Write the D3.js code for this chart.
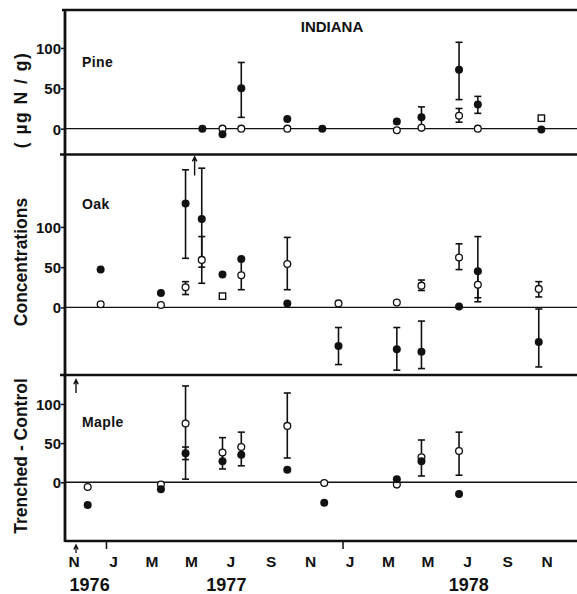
<!DOCTYPE html>
<html>
<head>
<meta charset="utf-8">
<script src="https://cdn.jsdelivr.net/npm/d3@7"></script>
<style>
  html, body { margin: 0; padding: 0; background: #fff; }
  svg { display: block; font-family: "Liberation Sans", Arial, sans-serif; }
</style>
</head>
<body>
<svg id="chart" width="577" height="594"></svg>
<script>
// ---------------- DATA ----------------
const title = "INDIANA";
const yAxisTitleParts = ["Trenched - Control", "Concentrations", "( \u00b5g N / g)"];
const monthLabels = ["N","J","M","M","J","S","N","J","M","M","J","S","N"];
const monthLabelDates = ["1976-11-12","1977-01-12","1977-03-12","1977-05-12","1977-07-12","1977-09-12","1977-11-12","1978-01-12","1978-03-12","1978-05-12","1978-07-12","1978-09-12","1978-11-12"];
const yearLabels = ["1976","1977","1978"];
const yearLabelDates = ["1976-12-06","1977-07-05","1978-07-14"];
const yearTickDates = ["1977-01-01","1978-01-01"];
const yTickValues = [0, 50, 100];

// Pine
const pineDates = ["1977-05-29","1977-06-29","1977-07-28","1977-10-07","1977-11-30","1978-03-25","1978-05-02","1978-06-29","1978-07-28","1978-11-03"];
const pineFilled   = [0, -7, 50, 12, 0, 9, 14, 73, 30, -1];
const pineFilledLo = [null, null, 14, null, null, null, 2, 36, 19, null];
const pineFilledHi = [null, null, 82, null, null, null, 27, 107, 40, null];
const pineOpen     = [null, 0, 0, 0, null, -2, 1, 16, 0, null];
const pineOpenLo   = [null, null, null, null, null, null, null, 8, null, null];
const pineOpenHi   = [null, null, null, null, null, null, null, 25, null, null];
const pineSquareDates = ["1978-11-03"];
const pineSquare = [13];

// Oak
const oakDates = ["1976-12-23","1977-03-26","1977-05-03","1977-05-28","1977-06-29","1977-07-28","1977-10-07","1977-12-25","1978-03-25","1978-05-02","1978-06-29","1978-07-28","1978-10-30"];
const oakFilled   = [47, 18, 129, 110, 41, 60, 5, -48, -52, -55, 1, 45, -43];
const oakFilledLo = [null, null, 61, 50, null, null, null, -71, -78, -76, null, 7, -74];
const oakFilledHi = [null, null, 171, 173, null, null, null, -25, -25, -17, null, 88, -2];
const oakOpen     = [4, 3, 25, 59, null, 40, 54, 5, 6, 27, 62, 28, 23];
const oakOpenLo   = [null, null, 16, 30, null, 22, 22, null, null, 21, 47, 12, 13];
const oakOpenHi   = [null, null, 32, 88, null, 60, 87, null, null, 34, 79, 44, 32];
const oakSquareDates = ["1977-06-29"];
const oakSquare = [14];
const oakArrowDates = ["1977-05-17"];
const oakArrowFrom = [164];
const oakArrowTo = [187];

// Maple
const mapleDates = ["1976-12-03","1977-03-26","1977-05-03","1977-06-29","1977-07-28","1977-10-07","1977-12-03","1978-03-25","1978-05-02","1978-06-29"];
const mapleFilled   = [-29, -9, 37, 27, 35, 16, -26, 4, 27, -15];
const mapleFilledLo = [null, null, 29, 17, 21, null, null, null, 8, null];
const mapleFilledHi = [null, null, 45, 38, 45, null, null, null, 32, null];
const mapleOpen     = [-6, -3, 75, 38, 45, 72, -1, -3, 32, 40];
const mapleOpenLo   = [null, null, 4, 28, 35, 31, null, null, 27, 9];
const mapleOpenHi   = [null, null, 123, 57, 64, 114, null, null, 54, 64];
const mapleSquareDates = [];
const mapleSquare = [];
const mapleArrowDates = ["1976-11-15"];
const mapleArrowFrom = [114];
const mapleArrowTo = [131];

const axisArrowDates = ["1976-11-15"];

// ---------------- LAYOUT ----------------
const parse = d3.utcParse("%Y-%m-%d");
const left = 65, right = 577, axisY = 541;
const x = d3.scaleUtc()
  .domain([parse("1976-10-29"), parse("1978-12-28")])
  .range([left, right]);

const panels = [
  { label: "Pine", labelY: 66.5, top: 10, bottom: 154.5, domain: [-32, 147],
    dates: pineDates, filled: pineFilled, fLo: pineFilledLo, fHi: pineFilledHi,
    open: pineOpen, oLo: pineOpenLo, oHi: pineOpenHi,
    sqDates: pineSquareDates, sq: pineSquare, arrows: [] },
  { label: "Oak", labelY: 209, top: 154.5, bottom: 375, domain: [-84, 190],
    dates: oakDates, filled: oakFilled, fLo: oakFilledLo, fHi: oakFilledHi,
    open: oakOpen, oLo: oakOpenLo, oHi: oakOpenHi,
    sqDates: oakSquareDates, sq: oakSquare,
    arrows: oakArrowDates.map((d, i) => ({ d, from: oakArrowFrom[i], to: oakArrowTo[i] })) },
  { label: "Maple", labelY: 427, top: 375, bottom: axisY, domain: [-75, 137],
    dates: mapleDates, filled: mapleFilled, fLo: mapleFilledLo, fHi: mapleFilledHi,
    open: mapleOpen, oLo: mapleOpenLo, oHi: mapleOpenHi,
    sqDates: mapleSquareDates, sq: mapleSquare,
    arrows: mapleArrowDates.map((d, i) => ({ d, from: mapleArrowFrom[i], to: mapleArrowTo[i] })) }
];

const svg = d3.select("#chart");
const ink = "#111";

// frame
svg.append("line").attr("x1", left - 3).attr("x2", right).attr("y1", 10).attr("y2", 10)
  .attr("stroke", ink).attr("stroke-width", 2.5);
svg.append("line").attr("x1", left).attr("x2", left).attr("y1", 9).attr("y2", axisY + 1)
  .attr("stroke", ink).attr("stroke-width", 2.8);
svg.append("line").attr("x1", left).attr("x2", right).attr("y1", axisY).attr("y2", axisY)
  .attr("stroke", ink).attr("stroke-width", 2.5);
panels.slice(1).forEach(p => {
  svg.append("line").attr("x1", left - 5).attr("x2", right).attr("y1", p.top).attr("y2", p.top)
    .attr("stroke", ink).attr("stroke-width", 2.5);
});

// title
svg.append("text").attr("x", 332).attr("y", 31.5).attr("text-anchor", "middle")
  .attr("font-size", 15).attr("font-weight", "bold").attr("fill", ink).text(title);

// y title (three pieces, as in the original lettering)
const titleCenters = [456, 262, 100];
const titleSpacing = [0, 0, 1.5];
yAxisTitleParts.forEach((t, i) => {
  svg.append("text")
    .attr("transform", `translate(27,${titleCenters[i]}) rotate(-90)`)
    .attr("text-anchor", "middle")
    .attr("font-size", 17.5).attr("font-weight", "bold").attr("fill", ink)
    .attr("letter-spacing", titleSpacing[i])
    .style("white-space", "pre")
    .text(t);
});

function arrowPath(xp, yTail, yHead) {
  return `M${xp},${yTail}L${xp},${yHead}M${xp - 2.2},${yHead + 4.5}L${xp},${yHead}L${xp + 2.2},${yHead + 4.5}`;
}

panels.forEach(p => {
  const y = d3.scaleLinear().domain(p.domain).range([p.bottom, p.top]);
  const g = svg.append("g");

  // y axis ticks
  const ax = d3.axisLeft(y).tickValues(yTickValues).tickSize(4).tickPadding(0).tickFormat(d3.format("d"));
  const axG = g.append("g").attr("transform", `translate(${left},0)`).call(ax);
  axG.select(".domain").remove();
  axG.selectAll(".tick line").attr("stroke", ink).attr("stroke-width", 1.5);
  axG.selectAll(".tick text").attr("font-size", 15).attr("font-weight", "bold")
    .attr("font-family", "'Liberation Sans', Arial, sans-serif").attr("fill", ink)
    .attr("dy", "0.36em");

  // zero line
  g.append("line").attr("x1", left).attr("x2", right).attr("y1", y(0)).attr("y2", y(0))
    .attr("stroke", ink).attr("stroke-width", 1.3);

  // panel label
  g.append("text").attr("x", 82).attr("y", p.labelY)
    .attr("font-size", 14).attr("font-weight", "bold").attr("letter-spacing", 0.4).attr("fill", ink).text(p.label);

  const rows = p.dates.map((d, i) => ({
    x: x(parse(d)), f: p.filled[i], fLo: p.fLo[i], fHi: p.fHi[i],
    o: p.open[i], oLo: p.oLo[i], oHi: p.oHi[i]
  }));

  // error bars
  const errs = [];
  rows.forEach(r => {
    if (r.fLo != null) errs.push({ x: r.x, lo: r.fLo, hi: r.fHi });
    if (r.oLo != null) errs.push({ x: r.x, lo: r.oLo, hi: r.oHi });
  });
  const eg = g.append("g").attr("stroke", ink).attr("stroke-width", 1.6).attr("fill", "none");
  errs.forEach(e => {
    eg.append("line").attr("x1", e.x).attr("x2", e.x).attr("y1", y(e.lo)).attr("y2", y(e.hi));
    [e.lo, e.hi].forEach(v => {
      eg.append("line").attr("x1", e.x - 3.5).attr("x2", e.x + 3.5).attr("y1", y(v)).attr("y2", y(v));
    });
  });

  // open circles
  g.append("g").selectAll("circle").data(rows.filter(r => r.o != null)).join("circle")
    .attr("cx", r => r.x).attr("cy", r => y(r.o)).attr("r", 3.4)
    .attr("fill", "#fff").attr("stroke", ink).attr("stroke-width", 1.3);

  // filled circles
  g.append("g").selectAll("circle").data(rows.filter(r => r.f != null)).join("circle")
    .attr("cx", r => r.x).attr("cy", r => y(r.f)).attr("r", 4)
    .attr("fill", ink);

  // open squares
  g.append("g").selectAll("rect").data(p.sqDates.map((d, i) => ({ x: x(parse(d)), v: p.sq[i] }))).join("rect")
    .attr("x", r => r.x - 3.2).attr("y", r => y(r.v) - 3.2).attr("width", 6.4).attr("height", 6.4)
    .attr("fill", "#fff").attr("stroke", ink).attr("stroke-width", 1.4);

  // arrows
  p.arrows.forEach(a => {
    g.append("path").attr("d", arrowPath(x(parse(a.d)), y(a.from), y(a.to)))
      .attr("stroke", ink).attr("stroke-width", 1.4).attr("fill", "none");
  });
});

// x axis year boundary ticks
svg.append("g").selectAll("line").data(yearTickDates).join("line")
  .attr("x1", d => x(parse(d))).attr("x2", d => x(parse(d)))
  .attr("y1", axisY).attr("y2", axisY + 8).attr("stroke", ink).attr("stroke-width", 1.5);

// axis arrow under N 1976
axisArrowDates.forEach(d => {
  svg.append("path").attr("d", arrowPath(x(parse(d)), axisY + 12, axisY + 4))
    .attr("stroke", ink).attr("stroke-width", 1.3).attr("fill", "none");
});

// month labels
svg.append("g").selectAll("text").data(monthLabels).join("text")
  .attr("x", (d, i) => x(parse(monthLabelDates[i])))
  .attr("y", 567).attr("text-anchor", "middle")
  .attr("font-size", 15.5).attr("font-weight", "bold").attr("fill", ink)
  .text(d => d);

// year labels
svg.append("g").selectAll("text").data(yearLabels).join("text")
  .attr("x", (d, i) => x(parse(yearLabelDates[i])))
  .attr("y", 590.5).attr("text-anchor", "middle")
  .attr("font-size", 18).attr("font-weight", "bold").attr("fill", ink)
  .text(d => d);
</script>
</body>
</html>
